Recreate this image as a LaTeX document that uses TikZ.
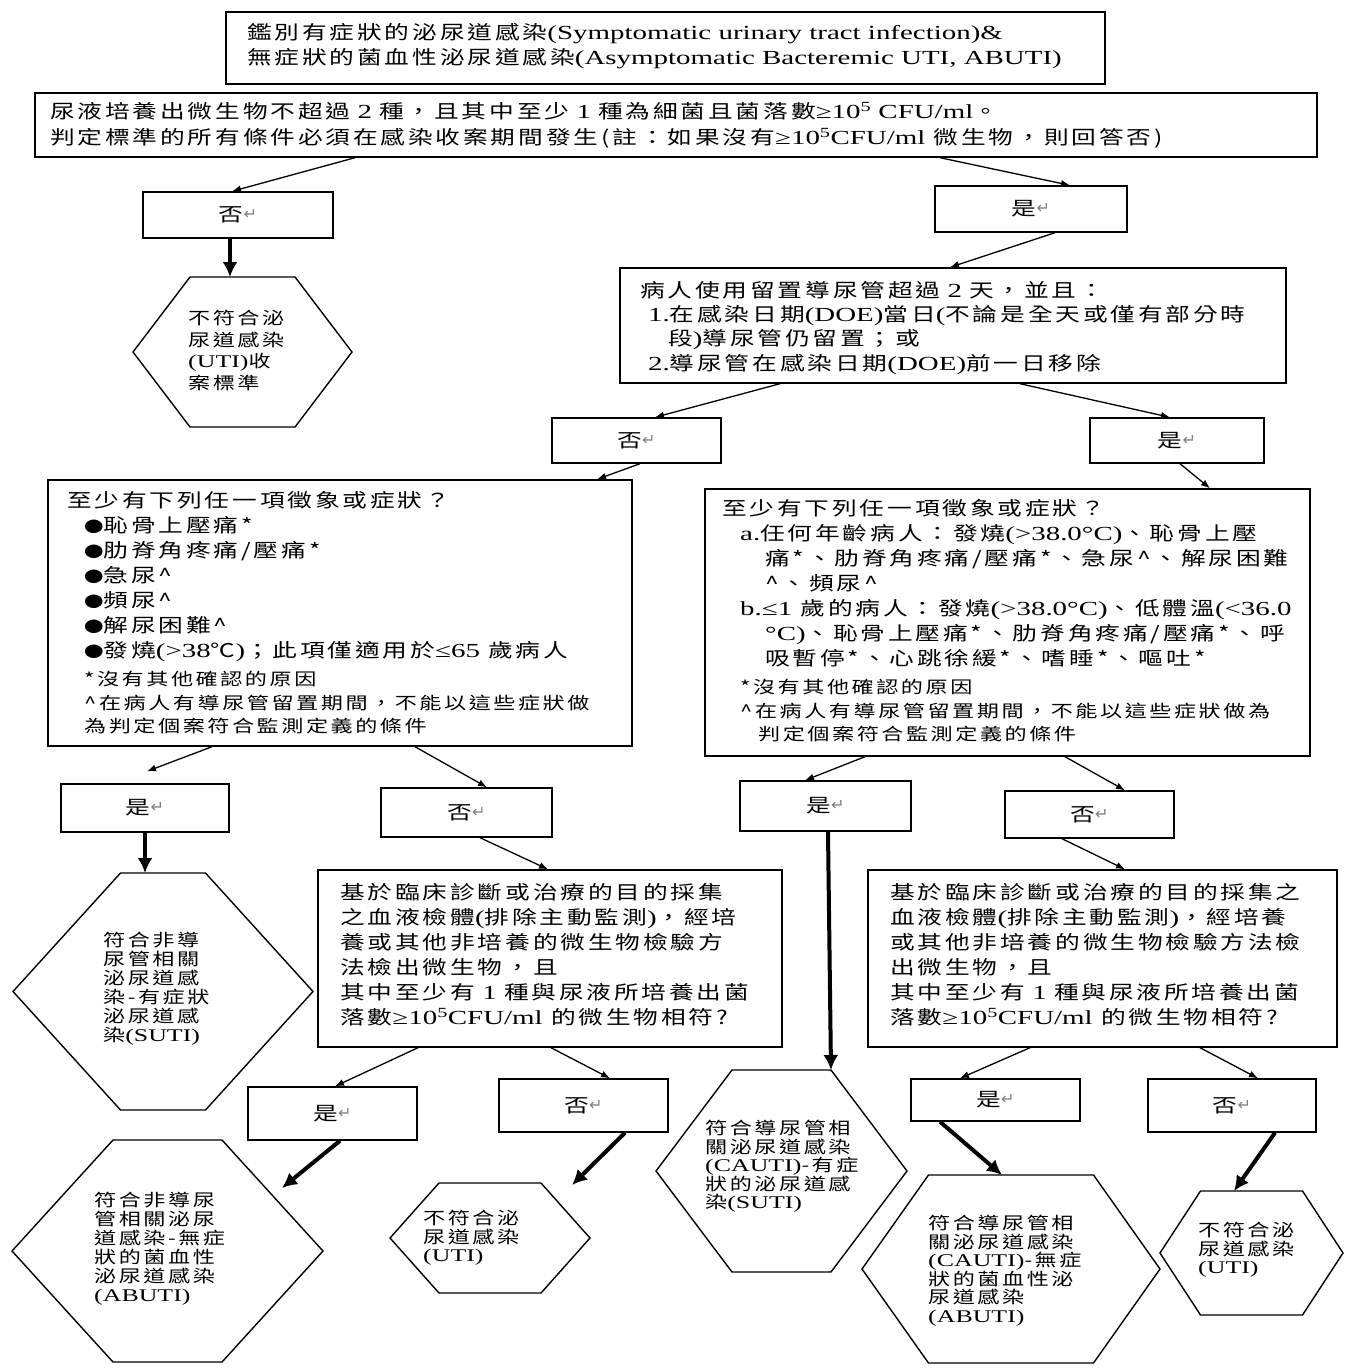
\documentclass[tikz,border=0pt]{standalone}
\usepackage{fontspec}
\setmainfont{Noto Sans CJK TC}[FakeStretch=1.3,LetterSpace=15]
\newfontfamily\latf{Liberation Serif}[FakeStretch=1.45,Scale=1.05]
\newfontfamily\dvf{DejaVu Sans}
\usetikzlibrary{arrows.meta,calc}
\newcommand\EN[1]{{\latf #1}}
\newcommand\RET{{\dvf\color{gray}\fontsize{16}{16}\selectfont\raisebox{2pt}{↵}}}
\newcommand\CARET{\textasciicircum}
\newcommand\BUL{{\fontsize{15}{15}\selectfont ●}}
\newcommand\drawhex[6]{%
  \node[hexbase, minimum width=#4pt, minimum height=#5pt] (#1) at (#2,#3) {};
  \draw[hexline] (#1.west) -- ([xshift=-#6pt]#1.north) -- ([xshift=#6pt]#1.north) -- (#1.east) -- ([xshift=#6pt]#1.south) -- ([xshift=-#6pt]#1.south) -- cycle;
}
\tikzset{
  box/.style={draw, line width=1.4pt, inner sep=0pt, rectangle},
  yn/.style={box, font=\fontsize{19}{22}\selectfont},
  hexbase/.style={inner sep=0pt, outer sep=0pt, rectangle},
  hexline/.style={draw, line width=1.4pt, line join=miter},
  txt/.style={inner sep=0pt, align=left, anchor=north west, font=\fontsize{19}{25}\selectfont},
  htxt/.style={inner sep=0pt, align=left, anchor=north west, font=\fontsize{17}{18.5}\selectfont},
  conn/.style={draw, line width=1.3pt, -{Latex[length=9pt,width=7pt]}},
  bigarrow/.style={draw, line width=4pt, -{Latex[length=15pt,width=15pt]}}
}
\begin{document}
\begin{tikzpicture}[x=1pt,y=-1pt]
\useasboundingbox (0,0) rectangle (1345,1369);
\fill[white] (0,0) rectangle (1345,1369);

% ---------- boxes ----------
\node[box, minimum width=879pt, minimum height=72pt] (title) at (665.5,48) {};
\node[txt] (titleT) at (247,23) {鑑別有症狀的泌尿道感染\EN{(Symptomatic urinary tract infection)\&}\\
無症狀的菌血性泌尿道感染\EN{(Asymptomatic Bacteremic UTI, ABUTI)}};

\node[box, minimum width=1282pt, minimum height=64pt] (crit) at (676,125) {};
\node[txt, font=\fontsize{19}{26}\selectfont] (critT) at (50,102) {尿液培養出微生物不超過\EN{ 2 }種，且其中至少\EN{ 1 }種為細菌且菌落數\EN{≥10\textsuperscript{5} CFU/ml}。\\
判定標準的所有條件必須在感染收案期間發生\,(註：如果沒有\EN{≥10\textsuperscript{5}CFU/ml} 微生物，則回答否\,)};

\node[yn, minimum width=190pt, minimum height=46pt] (no1) at (238,215) {否\RET};
\node[yn, minimum width=192pt, minimum height=46pt] (yes1) at (1031,209) {是\RET};

\drawhex{hex1}{242.5}{352}{219}{150}{52.5}
\node[htxt, font=\fontsize{17}{21.5}\selectfont] (hex1T) at (188,310) {不符合泌\\尿道感染\\\EN{(UTI)}收\\案標準};

\node[box, minimum width=666pt, minimum height=115pt] (cath) at (953,325.5) {};
\node[txt, font=\fontsize{19}{24.3}\selectfont] (cathT) at (640,281) {病人使用留置導尿管超過\EN{ 2 }天，並且：\\
\hspace*{8pt}\EN{1.}在感染日期\EN{(DOE)}當日\EN{(}不論是全天或僅有部分時\\
\hspace*{28pt}段\EN{)}導尿管仍留置；或\\
\hspace*{8pt}\EN{2.}導尿管在感染日期\EN{(DOE)}前一日移除};

\node[yn, minimum width=169pt, minimum height=45pt] (no2) at (636.5,440.5) {否\RET};
\node[yn, minimum width=174pt, minimum height=45pt] (yes2) at (1177,440.5) {是\RET};

\node[box, minimum width=584pt, minimum height=266pt] (symL) at (340,613) {};
\node[txt] (symLT) at (67,491) {至少有下列任一項徵象或症狀？\\
\hspace*{17pt}\BUL 恥骨上壓痛*\\
\hspace*{17pt}\BUL 肋脊角疼痛/壓痛*\\
\hspace*{17pt}\BUL 急尿\CARET\\
\hspace*{17pt}\BUL 頻尿\CARET\\
\hspace*{17pt}\BUL 解尿困難\CARET\\
\hspace*{17pt}\BUL 發燒\EN{(>38}℃\EN{)}；此項僅適用於\EN{≤65} 歲病人};
\node[txt, font=\fontsize{17}{23.5}\selectfont] (symLN) at (84,671) {*沒有其他確認的原因\\
\CARET 在病人有導尿管留置期間，不能以這些症狀做\\
為判定個案符合監測定義的條件};

\node[box, minimum width=605pt, minimum height=267pt] (symR) at (1007.5,622.5) {};
\node[txt] (symRT) at (722,499) {至少有下列任一項徵象或症狀？\\
\hspace*{18pt}\EN{a.}任何年齡病人：發燒\EN{(>38.0°C)}、恥骨上壓\\
\hspace*{43pt}痛*、肋脊角疼痛/壓痛*、急尿\CARET、解尿困難\\
\hspace*{43pt}\CARET、頻尿\CARET\\
\hspace*{18pt}\EN{b.≤1} 歲的病人：發燒\EN{(>38.0°C)}、低體溫\EN{(<36.0}\\
\hspace*{43pt}\EN{°C)}、恥骨上壓痛*、肋脊角疼痛/壓痛*、呼\\
\hspace*{43pt}吸暫停*、心跳徐緩*、嗜睡*、嘔吐*};
\node[txt, font=\fontsize{17}{23.5}\selectfont] (symRN) at (740,679) {*沒有其他確認的原因\\
\CARET 在病人有導尿管留置期間，不能以這些症狀做為\\
\hspace*{18pt}判定個案符合監測定義的條件};

\node[yn, minimum width=168pt, minimum height=48pt] (yes3) at (145,808) {是\RET};
\node[yn, minimum width=171pt, minimum height=49pt] (no3) at (466.5,812.5) {否\RET};
\node[yn, minimum width=171pt, minimum height=50pt] (yes4) at (825.5,806) {是\RET};
\node[yn, minimum width=169pt, minimum height=47pt] (no4) at (1089.5,814.5) {否\RET};

\drawhex{hexS}{163}{991.5}{300}{237}{42.5}
\node[htxt, font=\fontsize{17}{19}\selectfont] (hexST) at (103,932) {符合非導\\尿管相關\\泌尿道感\\染-有症狀\\泌尿道感\\染\EN{(SUTI)}};

\node[box, minimum width=464pt, minimum height=177pt] (bloodL) at (550,958.5) {};
\node[txt] (bloodLT) at (340,883) {基於臨床診斷或治療的目的採集\\
之血液檢體\EN{(}排除主動監測\EN{)}，經培\\
養或其他非培養的微生物檢驗方\\
法檢出微生物，且\\
其中至少有\EN{ 1 }種與尿液所培養出菌\\
落數\EN{≥10\textsuperscript{5}CFU/ml} 的微生物相符?};

\node[box, minimum width=469pt, minimum height=177pt] (bloodR) at (1102.5,958.5) {};
\node[txt] (bloodRT) at (890,883) {基於臨床診斷或治療的目的採集之\\
血液檢體\EN{(}排除主動監測\EN{)}，經培養\\
或其他非培養的微生物檢驗方法檢\\
出微生物，且\\
其中至少有\EN{ 1 }種與尿液所培養出菌\\
落數\EN{≥10\textsuperscript{5}CFU/ml} 的微生物相符?};

\node[yn, minimum width=169pt, minimum height=53pt] (yes5) at (332.5,1113.5) {是\RET};
\node[yn, minimum width=169pt, minimum height=53pt] (no5) at (583.5,1105.5) {否\RET};
\node[yn, minimum width=169pt, minimum height=42pt] (yes6) at (995.5,1100) {是\RET};
\node[yn, minimum width=168pt, minimum height=53pt] (no6) at (1232,1105.5) {否\RET};

\drawhex{hexA}{167.5}{1251}{311}{222}{54.5}
\node[htxt, font=\fontsize{17}{19}\selectfont] (hexAT) at (94,1192) {符合非導尿\\管相關泌尿\\道感染-無症\\狀的菌血性\\泌尿道感染\\\EN{(ABUTI)}};

\drawhex{hexU2}{490}{1238}{200}{110}{51}
\node[htxt] (hexU2T) at (423,1210) {不符合泌\\尿道感染\\\EN{(UTI)}};

\drawhex{hexCS}{781.5}{1171}{251}{202}{49.5}
\node[htxt] (hexCST) at (705,1120) {符合導尿管相\\關泌尿道感染\\\EN{(CAUTI)}-有症\\狀的泌尿道感\\染\EN{(SUTI)}};

\drawhex{hexCA}{1011}{1269}{298}{188}{82.5}
\node[htxt] (hexCAT) at (928,1215) {符合導尿管相\\關泌尿道感染\\\EN{(CAUTI)}-無症\\狀的菌血性泌\\尿道感染\\\EN{(ABUTI)}};

\drawhex{hexU3}{1251.5}{1253}{183}{124}{51}
\node[htxt] (hexU3T) at (1198,1222) {不符合泌\\尿道感染\\\EN{(UTI)}};

% ---------- connectors ----------
\draw[conn] ([xshift=-321pt]crit.south) -- ([xshift=-6pt]no1.north);
\draw[conn] ([xshift=264pt]crit.south) -- ([xshift=39pt]yes1.north);
\draw[bigarrow] ([xshift=-8pt]no1.south) -- ([xshift=-12.5pt]hex1.north);
\draw[conn] ([xshift=24pt]yes1.south) -- ([xshift=-3pt]cath.north);
\draw[conn] ([xshift=-173pt]cath.south) -- ([xshift=18.5pt]no2.north);
\draw[conn] ([xshift=67pt]cath.south) -- ([xshift=-7pt]yes2.north);
\draw[conn] ([xshift=3.5pt]no2.south) -- ([xshift=257pt]symL.north);
\draw[conn] ([xshift=3pt]yes2.south) -- ([xshift=202.5pt]symR.north);
\draw[conn] ([xshift=-128pt]symL.south) -- ([xshift=2pt,yshift=12pt]yes3.north);
\draw[conn] ([xshift=75pt]symL.south) -- ([xshift=20.5pt]no3.north);
\draw[bigarrow] (yes3.south) -- ([xshift=-18pt]hexS.north);
\draw[conn] ([xshift=13.5pt]no3.south) -- ([xshift=-2pt]bloodL.north);
\draw[conn] ([xshift=-142.5pt]symR.south) -- ([xshift=-20.5pt]yes4.north);
\draw[conn] ([xshift=57.5pt]symR.south) -- ([xshift=35.5pt]no4.north);
\draw[bigarrow] ([xshift=2.5pt]yes4.south) -- ([xshift=49.5pt]hexCS.north);
\draw[conn] ([xshift=-27.5pt]no4.south) -- ([xshift=22.5pt]bloodR.north);
\draw[conn] ([xshift=-132pt]bloodL.south) -- ([xshift=2.5pt]yes5.north);
\draw[conn] ([xshift=1pt]bloodL.south) -- ([xshift=26.5pt]no5.north);
\draw[bigarrow] ([xshift=7.5pt]yes5.south) -- ($(hexA.center)+(114.5,-63)$);
\draw[bigarrow] ([xshift=41.5pt]no5.south) -- ($(hexU2.center)+(82,-53)$);
\draw[conn] ([xshift=-72.5pt]bloodR.south) -- ([xshift=-35.5pt]yes6.north);
\draw[conn] ([xshift=97.5pt]bloodR.south) -- ([xshift=26pt]no6.north);
\draw[bigarrow] ([xshift=-55.5pt]yes6.south) -- ([xshift=-9pt]hexCA.north);
\draw[bigarrow] ([xshift=43pt]no6.south) -- ([xshift=-17.5pt]hexU3.north);
\end{tikzpicture}
\end{document}
